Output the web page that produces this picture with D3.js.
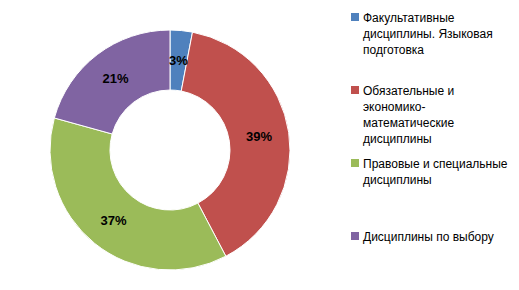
<!DOCTYPE html>
<html>
<head>
<meta charset="utf-8">
<script src="https://cdn.jsdelivr.net/npm/d3@7.9.0/dist/d3.min.js"></script>
<style>
  body { margin: 0; background: #fff; }
  svg { display: block; }
</style>
</head>
<body>
<div id="chart"></div>
<script>
// Data
const categories = [
    ['Факультативные', 'дисциплины. Языковая', 'подготовка'],
    ['Обязательные и', 'экономико-', 'математические', 'дисциплины'],
    ['Правовые и специальные', 'дисциплины'],
    ['Дисциплины по выбору']
];
const values = [3.0, 39.3, 37.0, 20.7];
const labels = ['3%', '39%', '37%', '21%'];
const colors = ['#4f81bd', '#c0504d', '#9bbb59', '#8064a2'];

const width = 519;
const height = 290;

const svg = d3.select('#chart')
    .append('svg')
    .attr('width', width)
    .attr('height', height);

const cx = 170, cy = 150;
const outerR = 120, innerR = 60;

const pie = d3.pie().sort(null).value(d => d);
const arc = d3.arc().innerRadius(innerR).outerRadius(outerR);

const g = svg.append('g').attr('transform', `translate(${cx},${cy})`);

const slices = pie(values);

g.selectAll('path')
    .data(slices)
    .join('path')
    .attr('d', arc)
    .attr('fill', (d, i) => colors[i])
    .attr('stroke', '#fff')
    .attr('stroke-width', 1);

// Percentage labels at slice centroids
g.selectAll('text')
    .data(slices)
    .join('text')
    .attr('transform', d => `translate(${arc.centroid(d)})`)
    .attr('text-anchor', 'middle')
    .attr('dy', '0.35em')
    .style('font-family', 'Liberation Sans, Arial, sans-serif')
    .style('font-weight', 'bold')
    .style('font-size', '13px')
    .style('fill', '#000')
    .text((d, i) => labels[i]);

// Legend
const legendTop = [13, 86, 159, 232];
const legend = svg.append('g').attr('transform', 'translate(351,0)');

const items = legend.selectAll('g')
    .data(categories)
    .join('g')
    .attr('transform', (d, i) => `translate(0,${legendTop[i]})`);

items.append('rect')
    .attr('width', 8)
    .attr('height', 8)
    .attr('fill', (d, i) => colors[i]);

items.append('text')
    .attr('x', 12)
    .attr('y', 9)
    .style('font-family', 'Liberation Sans, Arial, sans-serif')
    .style('font-size', '12px')
    .style('fill', '#000')
    .selectAll('tspan')
    .data(d => d)
    .join('tspan')
    .attr('x', 12)
    .attr('dy', (d, i) => i === 0 ? 0 : 16)
    .text(d => d);
</script>
</body>
</html>
